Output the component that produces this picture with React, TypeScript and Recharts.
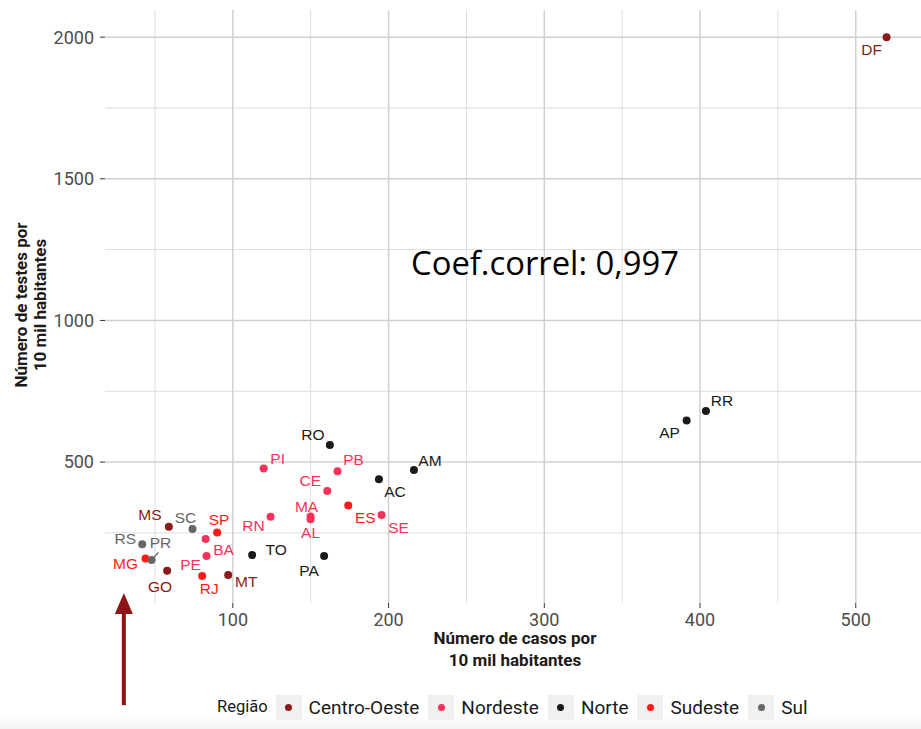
import React from 'react';
import { ScatterChart, Scatter, XAxis, YAxis, ReferenceLine } from 'recharts';

const regions = ['Centro-Oeste', 'Nordeste', 'Norte', 'Sudeste', 'Sul'];
const regionColors = ['#8B1A1A', '#F7325A', '#1A1A1A', '#FF1A1A', '#666666'];

const states = ['DF', 'MS', 'GO', 'MT', 'PI', 'PB', 'CE', 'MA', 'AL', 'RN', 'BA', 'PE', 'SE', 'RO', 'AM', 'AC', 'TO', 'PA', 'RR', 'AP', 'SP', 'MG', 'RJ', 'ES', 'RS', 'PR', 'SC'];
const stateRegion = ['Centro-Oeste', 'Centro-Oeste', 'Centro-Oeste', 'Centro-Oeste', 'Nordeste', 'Nordeste', 'Nordeste', 'Nordeste', 'Nordeste', 'Nordeste', 'Nordeste', 'Nordeste', 'Nordeste', 'Norte', 'Norte', 'Norte', 'Norte', 'Norte', 'Norte', 'Norte', 'Sudeste', 'Sudeste', 'Sudeste', 'Sudeste', 'Sul', 'Sul', 'Sul'];
const casos = [519.8, 58.9, 57.8, 97.0, 119.8, 167.2, 160.6, 149.9, 149.9, 124.2, 82.5, 83.1, 195.5, 162.3, 216.3, 193.8, 112.4, 158.6, 403.8, 391.4, 89.9, 43.9, 80.3, 174.1, 41.8, 47.8, 74.1];
const testes = [2000, 271.7, 116.5, 101.3, 477.8, 468.0, 397.7, 308.0, 297.8, 307.0, 228.3, 168.3, 313.0, 560.0, 471.8, 439.0, 171.8, 168.3, 680.0, 647.0, 251.9, 160.0, 97.7, 347.0, 209.6, 154.2, 263.6];

const xTicks = [100, 200, 300, 400, 500];
const yTicks = [500, 1000, 1500, 2000];
const xMinor = [50, 150, 250, 350, 450];
const yMinor = [250, 750, 1250, 1750];
const arrowX = 30;
const arrowY = [-358, 38];
const coefText = 'Coef.correl: 0,997';

// label placement (pixel offsets from each point, like ggrepel)
const LABEL_OFFSETS: Record<string, [number, number]> = {
  DF: [-15, 12], MS: [-19, -12], GO: [-7, 16], MT: [18, 6],
  PI: [14, -10], PB: [16, -12], CE: [-17, -11], MA: [-4, -10], AL: [0, 13],
  RN: [-17, 9], BA: [18, 10], PE: [-16, 8], SE: [17, 12],
  RO: [-17, -11], AM: [16, -10], AC: [16, 12], TO: [24, -6], PA: [-15, 14],
  RR: [16, -11], AP: [-17, 12],
  SP: [2, -13], MG: [-20, 5], RJ: [7, 12], ES: [17, 12],
  RS: [-17, -6], PR: [9, -18], SC: [-7, -12],
};
const LEADERS = ['PR'];

const rows = states.map((uf, i) => ({ uf, region: stateRegion[i], x: casos[i], y: testes[i] }));

const makeShape = (color: string) => (props: any) => {
  const { cx, cy, payload } = props;
  const off = LABEL_OFFSETS[payload.uf] || [0, -12];
  return (
    <g>
      {LEADERS.includes(payload.uf) && (
        <line x1={cx} y1={cy} x2={cx + off[0] * 0.75} y2={cy + off[1] * 0.42} stroke={color} strokeWidth={1.2} />
      )}
      <circle cx={cx} cy={cy} r={4} fill={color} />
      <text
        x={cx + off[0]}
        y={cy + off[1]}
        textAnchor="middle"
        dominantBaseline="central"
        fill={color}
        fontSize={15.5}
        fontFamily="'Liberation Sans', Arial, sans-serif"
      >
        {payload.uf}
      </text>
    </g>
  );
};

const arrowShape = (p: any) => {
  const { x1, y1, x2, y2 } = p;
  const top = Math.min(y1, y2);
  const bottom = Math.max(y1, y2);
  const x = x1;
  return (
    <g>
      <line x1={x} y1={bottom} x2={x} y2={top + 16} stroke="#8E1515" strokeWidth={4} />
      <polygon points={`${x},${top} ${x - 9},${top + 21} ${x + 9},${top + 21}`} fill="#8E1515" />
    </g>
  );
};

export default function App() {
  const tickStyle = { fill: '#4d4d4d', fontSize: 18, fontFamily: 'Roboto, sans-serif' };
  return (
    <div style={{ position: 'absolute', left: 0, top: 0, width: 921, height: 729, background: '#fff', overflow: 'hidden' }}>
      <div style={{ position: 'absolute', left: 0, top: 716, width: 921, height: 13, background: 'linear-gradient(#ffffff, #f2f2f2)' }} />
      <div style={{ position: 'absolute', left: 0, top: 0 }}>
        <ScatterChart width={921} height={729} margin={{ top: 10, right: 0, bottom: 66, left: 0 }}>
          {xMinor.map((v) => (
            <ReferenceLine key={'xm' + v} x={v} stroke="#dddddd" strokeWidth={1} />
          ))}
          {yMinor.map((v) => (
            <ReferenceLine key={'ym' + v} y={v} stroke="#dddddd" strokeWidth={1} />
          ))}
          {xTicks.map((v) => (
            <ReferenceLine key={'xM' + v} x={v} stroke="#d0d0d0" strokeWidth={1.5} />
          ))}
          {yTicks.map((v) => (
            <ReferenceLine key={'yM' + v} y={v} stroke="#d0d0d0" strokeWidth={1.5} />
          ))}
          <XAxis
            dataKey="x"
            type="number"
            domain={[17.9, 541.9]}
            allowDataOverflow
            ticks={xTicks}
            axisLine={false}
            tickLine={{ stroke: '#333', strokeWidth: 1 }}
            tickSize={5}
            tickMargin={5}
            tick={tickStyle}
            height={60}
          />
          <YAxis
            dataKey="y"
            type="number"
            domain={[2.6, 2095.9]}
            allowDataOverflow
            ticks={yTicks}
            axisLine={false}
            tickLine={{ stroke: '#333', strokeWidth: 1 }}
            tickSize={5}
            tickMargin={6}
            tick={tickStyle}
            width={105}
          />
          {regions.map((r, i) => (
            <Scatter
              key={r}
              name={r}
              data={rows.filter((d) => d.region === r)}
              fill={regionColors[i]}
              shape={makeShape(regionColors[i])}
              isAnimationActive={false}
            />
          ))}
          <ReferenceLine
            segment={[{ x: arrowX, y: arrowY[0] }, { x: arrowX, y: arrowY[1] }]}
            ifOverflow="visible"
            stroke="#8E1515"
            shape={arrowShape}
          />
        </ScatterChart>
      </div>

      <svg width={921} height={729} style={{ position: 'absolute', left: 0, top: 0, pointerEvents: 'none' }}>
        <g fontFamily="Roboto, sans-serif" fontWeight="bold" fontSize={17} fill="#1a1a1a" textAnchor="middle">
          <text x={515} y={644}>Número de casos por</text>
          <text x={515} y={666}>10 mil habitantes</text>
          <text transform="translate(27,305) rotate(-90)">Número de testes por</text>
          <text transform="translate(46,305) rotate(-90)">10 mil habitantes</text>
        </g>
        <text x={411} y={275} fontFamily="'Open Sans', sans-serif" fontSize={32.8} fill="#000">
          {coefText}
        </text>
      </svg>

      <div
        style={{
          position: 'absolute',
          left: 217,
          top: 695,
          height: 25,
          display: 'flex',
          alignItems: 'center',
          fontFamily: 'Roboto, sans-serif',
          color: '#1a1a1a',
          lineHeight: 1,
        }}
      >
        <span style={{ fontSize: 16.5, marginRight: 8 }}>Região</span>
        {regions.map((r, i) => (
          <div key={r} style={{ display: 'flex', alignItems: 'center', marginRight: 9 }}>
            <div style={{ width: 26, height: 25, background: '#f0f0f0', display: 'flex', alignItems: 'center', justifyContent: 'center' }}>
              <div style={{ width: 7, height: 7, borderRadius: 4, background: regionColors[i] }} />
            </div>
            <span style={{ fontSize: 19, marginLeft: 7 }}>{r}</span>
          </div>
        ))}
      </div>
    </div>
  );
}
